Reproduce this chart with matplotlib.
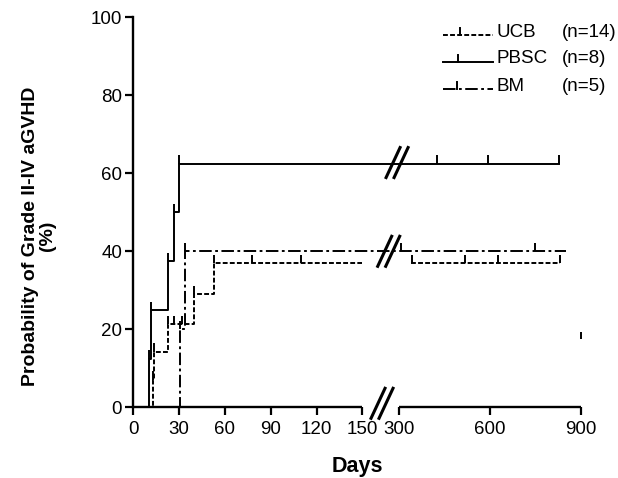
import numpy as np
import matplotlib
matplotlib.use("Agg")
import matplotlib.pyplot as plt
from matplotlib.transforms import ScaledTranslation
from matplotlib.lines import Line2D

plt.rcParams['font.family'] = ['Liberation Sans', 'DejaVu Sans']
plt.rcParams['lines.scale_dashes'] = False

# ---------------- data ----------------
# PBSC (solid)
pbsc_days = [0, 10.3, 11.5, 22.9, 26.7, 30, 828]
pbsc_vals = [0, 12.5, 25.0, 37.5, 50.0, 62.5, 62.5]
pbsc_cens_days = [10.3, 11.5, 22.9, 26.7, 30, 425, 594, 828]
pbsc_cens_vals = [12.5, 25.0, 37.5, 50.0, 62.5, 62.5, 62.5, 62.5]

# UCB (dashed)
ucb_days = [0, 12.8, 13.6, 23, 40, 53, 150]
ucb_vals = [0, 7.1, 14.3, 21.4, 29.0, 37.0, 37.0]
ucb_late_days = [338, 832]
ucb_late_vals = [37.0, 37.0]
ucb_cens_days = [12.8, 13.6, 23, 26.5, 32, 40, 53, 78, 110, 342, 517, 628, 832]
ucb_cens_vals = [7.1, 14.3, 21.4, 21.4, 21.4, 29.0, 37.0, 37.0, 37.0, 37.0, 37.0, 37.0, 37.0]

# BM (dash-dot)
bm_days = [0, 30.6, 33.9, 850]
bm_vals = [0, 20.0, 40.0, 40.0]
bm_cens_days = [30.6, 33.9, 305, 750]
bm_cens_vals = [20.0, 40.0, 40.0, 40.0]

stray_days = [900]
stray_lo = [17.6]
stray_hi = [19.2]

xticks = [0, 30, 60, 90, 120, 150, 300, 600, 900]
yticks = [0, 20, 40, 60, 80, 100]
legend_names = ['UCB', 'PBSC', 'BM']
legend_counts = ['(n=14)', '(n=8)', '(n=5)']

# ---------------- broken x scale ----------------
XP = np.array([0.0, 150.0, 300.0, 900.0])
FP = np.array([0.0, 229.0, 266.0, 447.4])
s0 = (FP[1] - FP[0]) / (XP[1] - XP[0])
s1 = (FP[-1] - FP[-2]) / (XP[-1] - XP[-2])

def fwd(d):
    d = np.asarray(d, dtype=float)
    out = np.interp(d, XP, FP)
    out = np.where(d < XP[0], FP[0] + (d - XP[0]) * s0, out)
    out = np.where(d > XP[-1], FP[-1] + (d - XP[-1]) * s1, out)
    return out

def inv(p):
    p = np.asarray(p, dtype=float)
    out = np.interp(p, FP, XP)
    out = np.where(p < FP[0], XP[0] + (p - FP[0]) / s0, out)
    out = np.where(p > FP[-1], XP[-1] + (p - FP[-1]) / s1, out)
    return out

W, H = 618, 478
fig = plt.figure(figsize=(W / 100, H / 100), dpi=100)
ax = fig.add_axes([133.3 / W, 1 - 407.3 / H, (580.7 - 133.3) / W, (407.3 - 17.3) / H])
ax.set_xscale('function', functions=(fwd, inv))
ax.set_xlim(0, 900)
ax.set_ylim(0, 100)

lw = 1.4
tick_h = 2.1
ax.step(pbsc_days, pbsc_vals, where='post', color='black', lw=lw, clip_on=False)
ax.vlines(pbsc_cens_days, pbsc_cens_vals, np.array(pbsc_cens_vals) + tick_h, color='black', lw=lw, clip_on=False)

ucb_ls = (0, (3.5, 1.6))
ax.step(ucb_days, ucb_vals, where='post', color='black', lw=lw, linestyle=ucb_ls, clip_on=False)
ax.plot(ucb_late_days, ucb_late_vals, color='black', lw=lw, linestyle=ucb_ls, clip_on=False)
ax.vlines(ucb_cens_days, ucb_cens_vals, np.array(ucb_cens_vals) + tick_h, color='black', lw=lw, clip_on=False)

bm_ls = (0, (9, 2.5, 2, 2.5))
ax.step(bm_days, bm_vals, where='post', color='black', lw=lw, linestyle=bm_ls, clip_on=False)
ax.vlines(bm_cens_days, bm_cens_vals, np.array(bm_cens_vals) + tick_h, color='black', lw=lw, clip_on=False)

ax.vlines(stray_days, stray_lo, stray_hi, color='black', lw=lw, clip_on=False)

# axes styling
for sp in ['top', 'right', 'bottom']:
    ax.spines[sp].set_visible(False)
ax.spines['left'].set_linewidth(1.7)
ax.plot([0, 150], [0, 0], color='black', lw=1.7, clip_on=False, solid_capstyle='butt')
ax.plot([300, 900], [0, 0], color='black', lw=1.7, clip_on=False, solid_capstyle='butt')

ax.set_xticks(xticks)
ax.set_xticklabels([str(t) for t in xticks])
ax.set_yticks(yticks)
ax.set_yticklabels([str(t) for t in yticks])
ax.xaxis.set_minor_locator(matplotlib.ticker.NullLocator())
ax.tick_params(axis='both', direction='out', length=6, width=1.6, labelsize=13.5, colors='black')
ax.tick_params(axis='x', pad=4)
ax.tick_params(axis='y', pad=2)

ax.set_xlabel('Days', fontsize=15.5, fontweight='bold', labelpad=13)
fig.text(39 / W, 1 - 236 / H, 'Probability of Grade II-IV aGVHD\n(%)', rotation=90,
         ha='center', va='center', multialignment='center', fontsize=14, fontweight='bold',
         linespacing=1.05)

# break marks
def brk(xd, yd, dy_px=0):
    tr = fig.dpi_scale_trans + ScaledTranslation(xd, yd, ax.transData)
    for off in (-4, 4):
        x0, y0 = (off - 7) / 100, (dy_px - 15) / 100
        x1, y1 = (off + 7) / 100, (dy_px + 15) / 100
        fig.add_artist(Line2D([x0, x1], [y0, y1], transform=tr, color='black', lw=2.2))

brk(230, 0, 4)
brk(291, 62.5, 1)
brk(257, 40, 0)

# legend (manual)
rows_y = [35, 61.7, 89]
text_y = [32.2, 58.5, 86.5]
styles = [ucb_ls, '-', bm_ls]
tick_x = [460, 458, 457]
for ry, ty, st, tx, nm, ct in zip(rows_y, text_y, styles, tick_x, legend_names, legend_counts):
    yf = 1 - ry / H
    fig.add_artist(Line2D([443 / W, 493 / W], [yf, yf], transform=fig.transFigure,
                          color='black', lw=lw, linestyle=st))
    fig.add_artist(Line2D([tx / W, tx / W], [yf, 1 - (ry - 7) / H], transform=fig.transFigure,
                          color='black', lw=lw))
    fig.text(496 / W, 1 - ty / H, nm, fontsize=13.5, va='center', ha='left')
    fig.text(562 / W, 1 - ty / H, ct, fontsize=13.5, va='center', ha='left')

fig.savefig('out.png', dpi=100)
